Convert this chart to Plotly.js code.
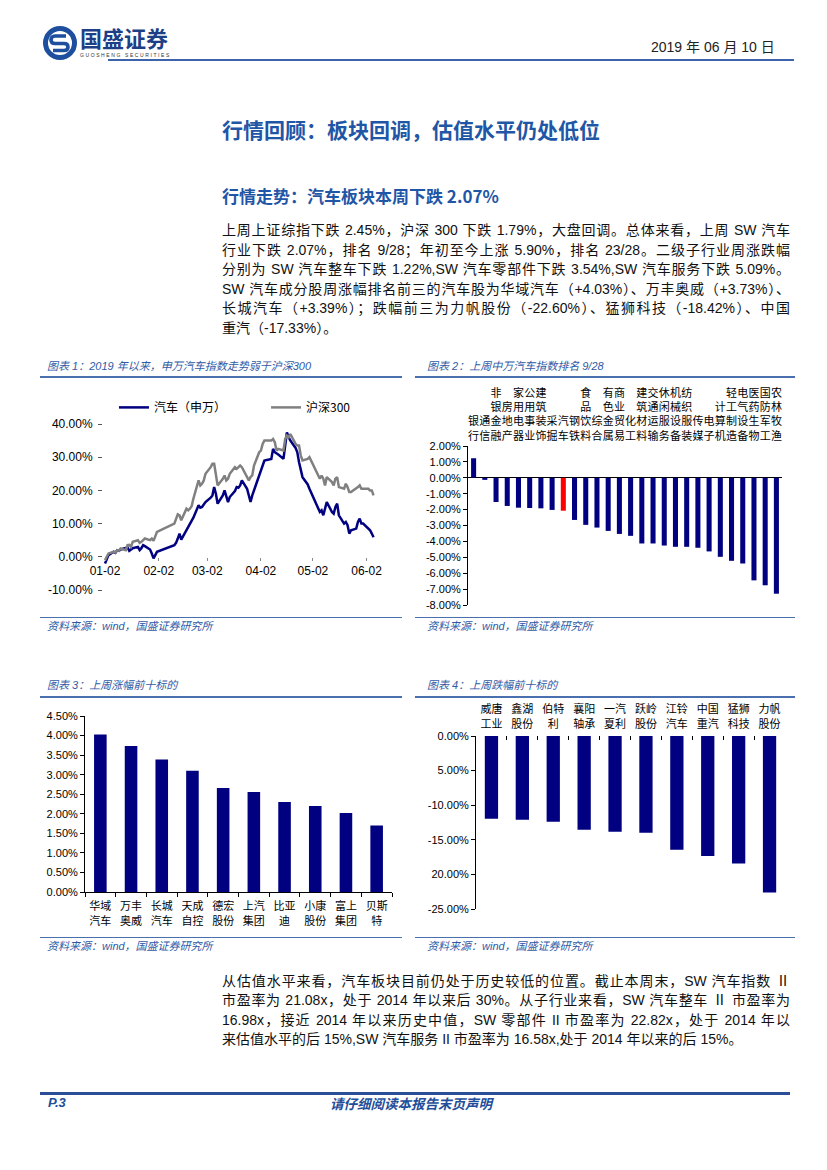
<!DOCTYPE html>
<html>
<head>
<meta charset="utf-8">
<script src="https://cdn.plot.ly/plotly-3.0.1.min.js"></script>
<style>
  html, body { margin:0; padding:0; background:#fff; }
  body { width:827px; height:1170px; position:relative; overflow:hidden;
         font-family:"Liberation Sans","Noto Sans CJK SC",sans-serif; color:#111; }
  .abs { position:absolute; }
  .hline { position:absolute; height:2px; background:#4a6fae; }
  .cap { position:absolute; font-size:11px; font-style:italic; color:#2f5aa6; white-space:nowrap; }
  .para { position:absolute; left:222px; width:568px; font-size:14px; line-height:19.5px; }
  .para div { white-space:nowrap; text-align:justify; text-align-last:justify; }
  .para div.last { text-align-last:left; }
</style>
</head>
<body>
<!-- header -->
<svg class="abs" style="left:42px;top:25px" width="36" height="36" viewBox="0 0 36 36">
  <circle cx="18" cy="18" r="14.5" fill="none" stroke="#1d4f9e" stroke-width="5"/>
  <path d="M24 11 L13 11 Q9 11 9 15 Q9 18.5 13 18.5 L22 18.5 Q26 18.5 26 22 Q26 25.5 22 25.5 L11 25.5" fill="none" stroke="#1d4f9e" stroke-width="3.6"/>
</svg>
<div class="abs" style="left:80px;top:24px;font-size:22px;font-weight:bold;color:#1d3f86;font-family:'Noto Sans CJK SC';line-height:26px;">国盛证券</div>
<div class="abs" style="left:80px;top:52px;font-size:5px;color:#333;letter-spacing:1.6px;line-height:6px;">GUOSHENG SECURITIES</div>
<div class="abs" style="left:651px;top:38px;font-size:14px;color:#222;line-height:18px;font-family:'Liberation Sans Narrow','Liberation Sans','Noto Sans CJK SC';">2019 年 06 月 10 日</div>
<div class="hline" style="left:108px;top:59px;width:686px;background:#3d63aa;"></div>

<div class="abs" style="left:222px;top:115px;font-size:21px;font-weight:bold;color:#1f56a6;font-family:'Noto Sans CJK SC';line-height:28px;">行情回顾：板块回调，估值水平仍处低位</div>
<div class="abs" style="left:222px;top:185px;font-size:17px;font-weight:bold;color:#1f56a6;font-family:'Noto Sans CJK SC';line-height:22px;">行情走势：汽车板块本周下跌 2.07%</div>

<div class="para" style="top:221px;">
  <div>上周上证综指下跌 2.45%，沪深 300 下跌 1.79%，大盘回调。总体来看，上周 SW 汽车</div>
  <div>行业下跌 2.07%，排名 9/28；年初至今上涨 5.90%，排名 23/28。二级子行业周涨跌幅</div>
  <div>分别为 SW 汽车整车下跌 1.22%,SW 汽车零部件下跌 3.54%,SW 汽车服务下跌 5.09%。</div>
  <div>SW 汽车成分股周涨幅排名前三的汽车股为华域汽车（+4.03%）、万丰奥威（+3.73%）、</div>
  <div>长城汽车（+3.39%）；跌幅前三为力帆股份（-22.60%）、猛狮科技（-18.42%）、中国</div>
  <div class="last">重汽（-17.33%）。</div>
</div>

<!-- chart captions and rules -->
<div class="cap" style="left:47px;top:357px;">图表 1：2019 年以来，申万汽车指数走势弱于沪深300</div>
<div class="hline" style="left:40px;top:376px;width:362px;"></div>
<div class="hline" style="left:40px;top:616px;width:362px;"></div>
<div class="cap" style="left:47px;top:617px;">资料来源：wind，国盛证券研究所</div>

<div class="cap" style="left:427px;top:357px;">图表 2：上周中万汽车指数排名 9/28</div>
<div class="hline" style="left:415px;top:376px;width:380px;"></div>
<div class="hline" style="left:415px;top:616px;width:380px;"></div>
<div class="cap" style="left:427px;top:617px;">资料来源：wind，国盛证券研究所</div>

<div class="cap" style="left:47px;top:676px;">图表 3：上周涨幅前十标的</div>
<div class="hline" style="left:40px;top:696px;width:362px;"></div>
<div class="hline" style="left:40px;top:936px;width:362px;"></div>
<div class="cap" style="left:47px;top:937px;">资料来源：wind，国盛证券研究所</div>

<div class="cap" style="left:427px;top:676px;">图表 4：上周跌幅前十标的</div>
<div class="hline" style="left:415px;top:696px;width:380px;"></div>
<div class="hline" style="left:415px;top:936px;width:380px;"></div>
<div class="cap" style="left:427px;top:937px;">资料来源：wind，国盛证券研究所</div>

<div id="c1" class="abs" style="left:40px;top:380px;width:362px;height:237px;"></div>
<div id="c2" class="abs" style="left:415px;top:380px;width:380px;height:237px;"></div>
<div id="c3" class="abs" style="left:40px;top:700px;width:362px;height:237px;"></div>
<div id="c4" class="abs" style="left:415px;top:700px;width:380px;height:237px;"></div>

<div class="para" style="top:972px;line-height:19.3px;">
  <div>从估值水平来看，汽车板块目前仍处于历史较低的位置。截止本周末，SW 汽车指数 Ⅱ</div>
  <div>市盈率为 21.08x，处于 2014 年以来后 30%。从子行业来看，SW 汽车整车 Ⅱ 市盈率为</div>
  <div>16.98x，接近 2014 年以来历史中值，SW 零部件 II 市盈率为 22.82x，处于 2014 年以</div>
  <div class="last">来估值水平的后 15%,SW 汽车服务 II 市盈率为 16.58x,处于 2014 年以来的后 15%。</div>
</div>

<div class="hline" style="left:40px;top:1092px;width:750px;height:2.5px;background:#2b4f96;"></div>
<div class="abs" style="left:48px;top:1095px;font-size:13px;font-weight:bold;font-style:italic;color:#1f4e9a;">P.3</div>
<div class="abs" style="left:330px;top:1095px;font-size:13.5px;font-weight:bold;font-style:italic;color:#1f4e9a;font-family:'Noto Sans CJK SC';line-height:17px;">请仔细阅读本报告末页声明</div>

<script>
// ---------- Chart 1 data ----------
var dates = ['2019-01-02','2019-01-03','2019-01-04','2019-01-07','2019-01-08','2019-01-09','2019-01-10','2019-01-11',
 '2019-01-14','2019-01-15','2019-01-16','2019-01-17','2019-01-18','2019-01-21','2019-01-22','2019-01-23','2019-01-24','2019-01-25',
 '2019-01-28','2019-01-29','2019-01-30','2019-01-31','2019-02-01','2019-02-11','2019-02-12','2019-02-13','2019-02-14','2019-02-15',
 '2019-02-18','2019-02-19','2019-02-20','2019-02-21','2019-02-22','2019-02-25','2019-02-26','2019-02-27','2019-02-28','2019-03-01',
 '2019-03-04','2019-03-05','2019-03-06','2019-03-07','2019-03-08','2019-03-11','2019-03-12','2019-03-13','2019-03-14','2019-03-15',
 '2019-03-18','2019-03-19','2019-03-20','2019-03-21','2019-03-22','2019-03-25','2019-03-26','2019-03-27','2019-03-28','2019-03-29',
 '2019-04-01','2019-04-02','2019-04-03','2019-04-04','2019-04-08','2019-04-09','2019-04-10','2019-04-11','2019-04-12',
 '2019-04-15','2019-04-16','2019-04-17','2019-04-18','2019-04-19','2019-04-22','2019-04-23','2019-04-24','2019-04-25','2019-04-26',
 '2019-04-29','2019-04-30','2019-05-06','2019-05-07','2019-05-08','2019-05-09','2019-05-10','2019-05-13','2019-05-14','2019-05-15',
 '2019-05-16','2019-05-17','2019-05-20','2019-05-21','2019-05-22','2019-05-23','2019-05-24','2019-05-27','2019-05-28','2019-05-29',
 '2019-05-30','2019-05-31','2019-06-03','2019-06-04','2019-06-05','2019-06-06'];
var autoSW = [-2.0,-0.5,0.5,1.5,1.2,2.0,1.8,2.2,
 2.5,2.8,1.8,2.2,2.6,3.0,2.0,2.6,3.5,3.2,
 2.2,1.0,-0.5,0.5,1.5,3.5,4.2,5.5,7.0,5.2,
 8.0,8.8,9.5,10.5,11.8,15.5,14.8,15.0,15.6,16.5,
 17.8,18.5,21.0,19.0,16.0,18.5,20.0,18.0,16.5,18.0,
 19.8,21.0,20.8,21.5,23.0,20.5,18.5,16.5,18.5,20.0,
 24.5,25.5,27.5,29.0,29.5,32.5,31.5,31.0,30.8,
 29.5,33.0,37.5,36.0,35.0,32.8,31.5,28.5,26.0,24.0,
 21.8,20.5,13.5,14.0,12.5,14.5,16.5,13.5,13.0,15.0,
 16.0,12.5,10.0,10.5,9.5,7.0,8.0,8.5,10.5,11.5,
 10.0,10.0,8.5,8.0,7.0,5.9];
var hs300 = [-1.0,0.0,1.0,1.5,1.3,2.0,1.8,2.5,
 2.0,3.5,3.6,3.0,4.5,5.0,4.2,4.5,5.0,5.5,
 5.0,5.5,4.8,6.2,7.5,10.0,11.5,12.8,12.5,11.0,
 14.5,14.0,14.5,15.2,17.5,23.0,21.5,22.0,23.0,25.0,
 27.0,28.0,28.0,25.0,21.5,23.5,24.5,23.0,23.5,25.0,
 27.0,26.5,27.0,27.5,27.0,24.0,23.0,24.0,24.5,27.5,
 31.5,32.0,34.0,35.0,35.0,35.5,34.5,32.0,32.5,
 32.0,35.5,36.5,36.0,37.0,34.0,33.5,33.5,30.5,29.0,
 29.5,30.0,23.5,24.5,23.5,21.5,24.0,22.5,21.5,23.5,
 24.0,21.0,20.5,22.0,21.0,19.5,19.5,20.5,21.0,21.5,
 20.5,20.5,20.5,20.0,20.0,18.5];
var c1TickDates = ['2019-01-02','2019-02-02','2019-03-02','2019-04-02','2019-05-02','2019-06-02'];
var c1TickText = ['01-02','02-02','03-02','04-02','05-02','06-02'];
var c1YVals = [-10,0,10,20,30,40];
var c1YText = ['-10.00%','0.00%','10.00%','20.00%','30.00%','40.00%'];

// ---------- Chart 2 data ----------
var sectors = ['银行','通信','非银金融','房地产','家用电器','公用事业','建筑装饰','采掘','汽车','钢铁',
 '食品饮料','综合','有色金属','商业贸易','化工','建筑材料','交通运输','休闲服务','机械设备','纺织服装',
 '传媒','电子','计算机','轻工制造','电气设备','医药生物','国防军工','农林牧渔'];
var sectorChg = [1.23,-0.13,-1.52,-1.77,-1.88,-1.90,-1.92,-2.02,-2.07,-2.65,
 -2.96,-3.13,-3.34,-3.53,-3.65,-4.13,-4.13,-4.26,-4.34,-4.34,
 -4.40,-4.63,-4.97,-5.22,-5.39,-6.45,-6.76,-7.29];
var c2YVals = [2,1,0,-1,-2,-3,-4,-5,-6,-7,-8];
var c2YText = ['2.00%','1.00%','0.00%','-1.00%','-2.00%','-3.00%','-4.00%','-5.00%','-6.00%','-7.00%','-8.00%'];

// ---------- Chart 3 data ----------
var gainers = ['华域汽车','万丰奥威','长城汽车','天成自控','德宏股份','上汽集团','比亚迪','小康股份','富上集团','贝斯特'];
var gainerLabels = ['华域<br>汽车','万丰<br>奥威','长城<br>汽车','天成<br>自控','德宏<br>股份','上汽<br>集团','比亚<br>迪','小康<br>股份','富上<br>集团','贝斯<br>特'];
var gainerChg = [4.03,3.73,3.39,3.10,2.66,2.56,2.30,2.20,2.02,1.70];
var c3YVals = [0,0.5,1,1.5,2,2.5,3,3.5,4,4.5];
var c3YText = ['0.00%','0.50%','1.00%','1.50%','2.00%','2.50%','3.00%','3.50%','4.00%','4.50%'];

// ---------- Chart 4 data ----------
var losers = ['威唐工业','鑫湖股份','伯特利','襄阳轴承','一汽夏利','跃岭股份','江铃汽车','中国重汽','猛狮科技','力帆股份'];
var loserLabels = ['威唐<br>工业','鑫湖<br>股份','伯特<br>利','襄阳<br>轴承','一汽<br>夏利','跃岭<br>股份','江铃<br>汽车','中国<br>重汽','猛狮<br>科技','力帆<br>股份'];
var loserChg = [-11.95,-12.09,-12.38,-13.54,-13.83,-13.97,-16.43,-17.33,-18.42,-22.60];
var c4YVals = [0,-5,-10,-15,-20,-25];
var c4YText = ['0.00%','5.00%','-10.00%','-15.00%','20.00%','-25.00%'];

var NAVY = '#000080', GRAY = '#808080', RED = '#ff0000';
var FONT = '"Liberation Sans","Noto Sans CJK SC",sans-serif';
var CJK = '"Noto Sans CJK SC","Liberation Sans",sans-serif';
var cfg = {staticPlot:true, displayModeBar:false};

// Chart 1
Plotly.newPlot('c1', [
  {x:dates, y:autoSW, type:'scatter', mode:'lines', name:'汽车（申万）', legend:'legend', line:{color:NAVY, width:2.5}},
  {x:dates, y:hs300, type:'scatter', mode:'lines', name:'沪深300', legend:'legend2', line:{color:GRAY, width:2.5}}
], {
  width:362, height:237, margin:{l:63, r:25, t:44, b:27, autoexpand:false},
  paper_bgcolor:'#fff', plot_bgcolor:'#fff',
  font:{family:FONT, size:12, color:'#000'},
  showlegend:true,
  legend:{orientation:'h', x:0.04, xanchor:'left', y:1.10, yanchor:'middle',
          font:{family:CJK, size:12, color:'#000'}, itemwidth:30, bgcolor:'rgba(0,0,0,0)'},
  legend2:{orientation:'h', x:0.595, xanchor:'left', y:1.10, yanchor:'middle',
          font:{family:CJK, size:12, color:'#000'}, itemwidth:30, bgcolor:'rgba(0,0,0,0)'},
  xaxis:{type:'date', range:['2018-12-31 20:00','2019-06-08'], tickvals:c1TickDates, ticktext:c1TickText,
         anchor:'free', position:0.2, showline:false, showgrid:false, zeroline:false,
         ticks:'outside', ticklen:3, tickcolor:'#888', tickfont:{size:12, family:FONT}},
  yaxis:{range:[-10,40], tickvals:c1YVals, ticktext:c1YText, showline:false, showgrid:false, zeroline:false,
         ticks:'outside', ticklen:4, tickcolor:'#555', ticklabelstandoff:3, tickfont:{size:12, family:FONT}}
}, cfg);

// Chart 2
Plotly.newPlot('c2', [{
  x:sectors, y:sectorChg, type:'bar',
  marker:{color:sectors.map(function(s){ return s === '汽车' ? RED : NAVY; })}
}], {
  width:380, height:237, margin:{l:53, r:13, t:66, b:12, autoexpand:false},
  paper_bgcolor:'#fff', plot_bgcolor:'#fff', bargap:0.55, showlegend:false,
  font:{family:FONT, size:11, color:'#000'},
  xaxis:{type:'category', side:'top', tickvals:sectors,
         ticktext:sectors.map(function(s){ return s.split('').join('<br>'); }),
         tickangle:0, showline:false, showgrid:false, zeroline:false, ticks:'', ticklabelstandoff:3,
         tickfont:{family:CJK, size:11, color:'#000'}},
  yaxis:{range:[-8,2], tickvals:c2YVals, ticktext:c2YText, showline:true, linecolor:'#000', linewidth:1,
         showgrid:false, zeroline:true, zerolinecolor:'#000', zerolinewidth:1,
         ticks:'outside', ticklen:4, tickcolor:'#000', tickfont:{size:11, family:FONT}}
}, cfg);

// Chart 3
Plotly.newPlot('c3', [{
  x:gainers, y:gainerChg, type:'bar', marker:{color:NAVY}
}], {
  width:362, height:237, margin:{l:45, r:10, t:16, b:45, autoexpand:false},
  paper_bgcolor:'#fff', plot_bgcolor:'#fff', bargap:0.59, showlegend:false,
  font:{family:FONT, size:11, color:'#000'},
  xaxis:{type:'category', tickvals:gainers, ticktext:gainerLabels, tickangle:0,
         showline:true, linecolor:'#000', linewidth:1, showgrid:false, zeroline:false,
         ticks:'outside', tickson:'boundaries', ticklen:4, tickcolor:'#000', ticklabelstandoff:4,
         tickfont:{family:CJK, size:11, color:'#000'}},
  yaxis:{range:[0,4.5], tickvals:c3YVals, ticktext:c3YText, showline:true, linecolor:'#000', linewidth:1,
         showgrid:false, zeroline:false, ticks:'outside', ticklen:4, tickcolor:'#000',
         tickfont:{size:11, family:FONT}}
}, cfg);

// Chart 4
Plotly.newPlot('c4', [{
  x:losers, y:loserChg, type:'bar', marker:{color:NAVY}
}], {
  width:380, height:237, margin:{l:61, r:10, t:36, b:28, autoexpand:false},
  paper_bgcolor:'#fff', plot_bgcolor:'#fff', bargap:0.57, showlegend:false,
  font:{family:FONT, size:11, color:'#000'},
  xaxis:{type:'category', side:'top', tickvals:losers, ticktext:loserLabels, tickangle:0,
         showline:false, showgrid:false, zeroline:false,
         ticks:'inside', tickson:'boundaries', ticklen:4, tickcolor:'#000', ticklabelstandoff:5,
         tickfont:{family:CJK, size:11, color:'#000'}},
  yaxis:{range:[-25,0], tickvals:c4YVals, ticktext:c4YText, showline:true, linecolor:'#000', linewidth:1,
         showgrid:false, zeroline:false, ticks:'outside', ticklen:4, tickcolor:'#000',
         tickfont:{size:11, family:FONT}}
}, cfg);
</script>
</body>
</html>
